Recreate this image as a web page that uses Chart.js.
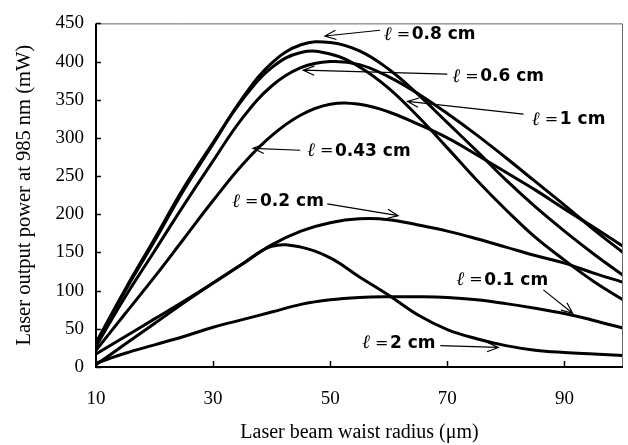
<!DOCTYPE html>
<html>
<head>
<meta charset="utf-8">
<script src="https://cdn.jsdelivr.net/npm/chart.js@4.4.0/dist/chart.umd.min.js"></script>
<style>
  html, body { margin: 0; padding: 0; background: #fff; }
</style>
</head>
<body>
<canvas id="myChart" width="628" height="445"></canvas>
<script>
// waist radius (um)
const waist = [10, 15, 20, 25, 30, 35, 40, 45, 50, 55, 60, 65, 70, 75, 80, 85, 90, 95, 100];
// output power (mW) for each crystal length
const power01 = [5, 18, 29, 40, 52, 62, 72, 82, 88, 91, 92, 92, 91, 88, 83, 77, 70, 61, 51];
const power02 = [17, 40, 63, 86, 110, 135, 160, 178, 189, 194, 193, 186, 178, 168, 157, 146, 136, 123, 111];
const power043 = [22, 70, 118, 168, 218, 265, 303, 330, 344, 344, 334, 318, 300, 278, 255, 232, 207, 183, 158];
const power06 = [27, 92, 152, 212, 270, 326, 368, 392, 400, 396, 380, 358, 332, 304, 274, 243, 212, 180, 150];
const power08 = [30, 100, 165, 232, 292, 352, 398, 422, 425, 414, 390, 357, 320, 283, 245, 210, 178, 148, 120];
const power1 = [32, 102, 168, 235, 294, 350, 392, 412, 410, 393, 365, 328, 287, 245, 206, 170, 140, 112, 88];
const power2 = [3, 30, 57, 84, 110, 135, 158, 157, 143, 118, 94, 68, 49, 37, 28, 22, 19, 17, 15];

const xTicks = [10, 30, 50, 70, 90];
const yTicks = [0, 50, 100, 150, 200, 250, 300, 350, 400, 450];

const toPoints = (arr) => waist.map((w, i) => ({ x: w, y: arr[i] }));

// labels with arrows, in data units
const notes = [
  { text: "0.8 cm", x: 59.3, y: 435, from: [58.5, 441], to: [49.1, 433.5] },
  { text: "0.6 cm", x: 71.0, y: 380, from: [70.0, 383.6], to: [45.4, 388.7] },
  { text: "1 cm", x: 84.6, y: 323.5, from: [83.0, 331.2], to: [63.2, 347.8] },
  { text: "0.43 cm", x: 46.2, y: 282.6, from: [44.9, 283.9], to: [36.8, 286.4] },
  { text: "0.2 cm", x: 33.4, y: 216, from: [49.5, 213.6], to: [61.6, 198.2] },
  { text: "0.1 cm", x: 71.7, y: 113.8, from: [86.4, 101], to: [91.4, 70.3] },
  { text: "2 cm", x: 55.6, y: 30.7, from: [68.8, 28.1], to: [78.7, 25.6] },
];

const notePlugin = {
  id: "notes",
  afterDatasetsDraw(chart) {
    const { ctx, scales: { x, y } } = chart;
    ctx.save();
    ctx.fillStyle = "#000";
    ctx.strokeStyle = "#000";
    ctx.lineWidth = 1.2;
    ctx.textBaseline = "middle";
    ctx.textAlign = "left";
    notes.forEach((n) => {
      const px = x.getPixelForValue(n.x);
      const py = y.getPixelForValue(n.y);
      ctx.font = "italic 19px 'DejaVu Serif'";
      ctx.fillText("ℓ", px - 1, py);
      ctx.font = "16px 'DejaVu Sans'";
      ctx.fillText("=", px + 12, py);
      ctx.font = "bold 17px 'DejaVu Sans'";
      ctx.fillText(n.text, px + 27, py);

      // arrow
      const x1 = x.getPixelForValue(n.from[0]), y1 = y.getPixelForValue(n.from[1]);
      const x2 = x.getPixelForValue(n.to[0]), y2 = y.getPixelForValue(n.to[1]);
      const a = Math.atan2(y2 - y1, x2 - x1);
      ctx.beginPath();
      ctx.moveTo(x1, y1);
      ctx.lineTo(x2, y2);
      ctx.moveTo(x2 - 12 * Math.cos(a - 0.4), y2 - 12 * Math.sin(a - 0.4));
      ctx.lineTo(x2, y2);
      ctx.lineTo(x2 - 12 * Math.cos(a + 0.4), y2 - 12 * Math.sin(a + 0.4));
      ctx.stroke();
    });
    ctx.restore();
  },
};

// box around the plot + inward tick marks
const framePlugin = {
  id: "frame",
  afterDraw(chart) {
    const { ctx, chartArea: a, scales: { x, y } } = chart;
    ctx.save();
    ctx.strokeStyle = "#666";
    ctx.lineWidth = 1;
    ctx.beginPath();
    ctx.moveTo(a.left, a.top + 0.5);
    ctx.lineTo(a.right - 0.5, a.top + 0.5);
    ctx.lineTo(a.right - 0.5, a.bottom);
    ctx.stroke();
    ctx.strokeStyle = "#000";
    ctx.lineWidth = 2;
    ctx.beginPath();
    ctx.moveTo(a.left, a.top);
    ctx.lineTo(a.left, a.bottom);
    ctx.lineTo(a.right, a.bottom);
    ctx.stroke();
    ctx.lineWidth = 1.5;
    ctx.beginPath();
    yTicks.forEach((v) => {
      const py = Math.round(y.getPixelForValue(v)) + 0.5;
      ctx.moveTo(a.left, py);
      ctx.lineTo(a.left + 5, py);
    });
    xTicks.forEach((v) => {
      const px = Math.round(x.getPixelForValue(v)) + 0.5;
      ctx.moveTo(px, a.bottom);
      ctx.lineTo(px, a.bottom - 6);
    });
    ctx.stroke();
    ctx.restore();
  },
};

const ctx = document.getElementById("myChart");
const mk = (label, arr) => ({
  label,
  data: toPoints(arr),
  borderColor: "#000",
  borderWidth: 3,
  pointRadius: 0,
  fill: false,
  tension: 0.4,
});

new Chart(ctx, {
  type: "line",
  data: {
    datasets: [
      mk("0.1 cm", power01),
      mk("0.2 cm", power02),
      mk("0.43 cm", power043),
      mk("0.6 cm", power06),
      mk("0.8 cm", power08),
      mk("1 cm", power1),
      mk("2 cm", power2),
    ],
  },
  options: {
    responsive: false,
    animation: false,
    devicePixelRatio: 1,
    layout: { padding: { top: 15, right: 5, left: 0, bottom: 0 } },
    plugins: { legend: { display: false }, tooltip: { enabled: false } },
    scales: {
      x: {
        type: "linear",
        min: 10,
        max: 100,
        afterBuildTicks: (s) => { s.ticks = xTicks.map((v) => ({ value: v })); },
        afterFit: (s) => { s.height = 78; },
        grid: { display: false, drawTicks: false },
        border: { display: false },
        ticks: { color: "#000", padding: 21, font: { family: "'Liberation Serif'", size: 19 } },
        title: {
          display: true,
          text: "Laser beam waist radius (μm)",
          color: "#000",
          padding: { top: 0, bottom: 0 },
          font: { family: "'Liberation Serif'", size: 20 },
        },
      },
      y: {
        min: 0,
        max: 450,
        afterBuildTicks: (s) => { s.ticks = yTicks.map((v) => ({ value: v })); },
        afterFit: (s) => { s.width = 96; },
        grid: { display: false, drawTicks: false },
        border: { display: false },
        ticks: { color: "#000", padding: 12, font: { family: "'Liberation Serif'", size: 19 } },
        title: {
          display: true,
          text: "Laser output power at 985 nm (mW)",
          color: "#000",
          padding: { top: 12, bottom: 0 },
          font: { family: "'Liberation Serif'", size: 20.5 },
        },
      },
    },
  },
  plugins: [notePlugin, framePlugin],
});
</script>
</body>
</html>
